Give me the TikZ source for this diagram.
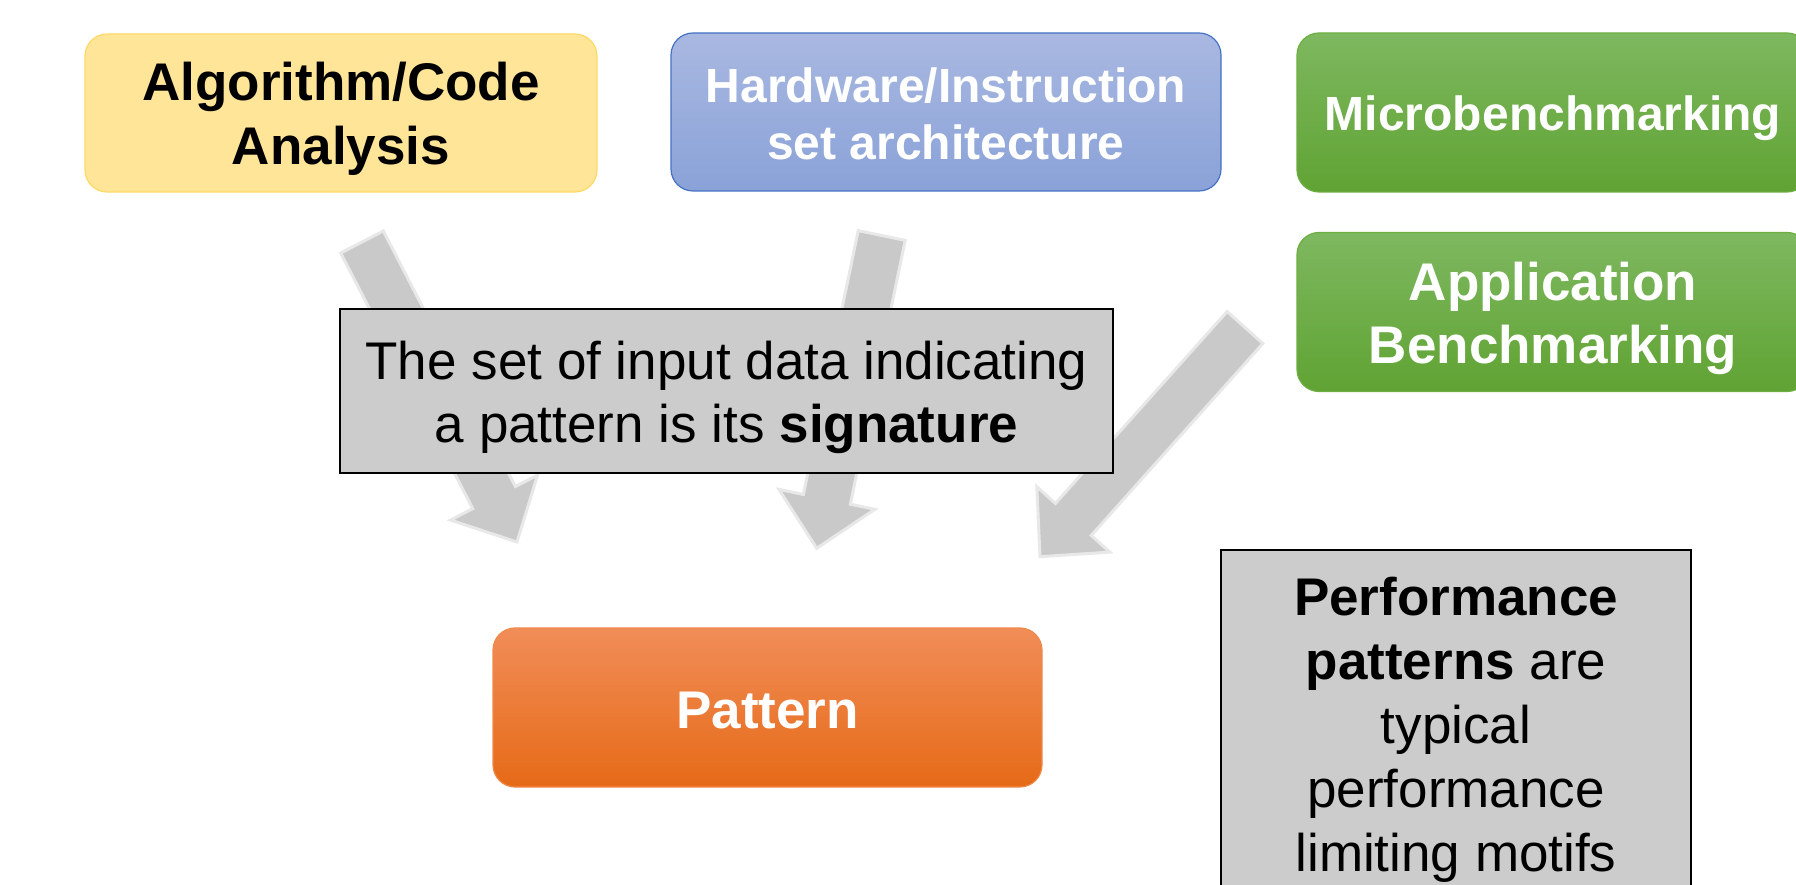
\documentclass[tikz,border=0pt]{standalone}
\usepackage{fontspec}
\setmainfont{Liberation Sans}
\usetikzlibrary{calc}

\definecolor{yelfill}{HTML}{FFE598}
\definecolor{yeldraw}{HTML}{FFD966}
\definecolor{bluetop}{HTML}{A9B8E1}
\definecolor{bluebot}{HTML}{8AA2D8}
\definecolor{bluedraw}{HTML}{4472C4}
\definecolor{greentop}{HTML}{7EB860}
\definecolor{greenbot}{HTML}{60A333}
\definecolor{greendraw}{HTML}{6DAE42}
\definecolor{orgtop}{HTML}{F18D58}
\definecolor{orgmid}{HTML}{F37E2B}
\definecolor{orgbot}{HTML}{E66A17}
\definecolor{orgdraw}{HTML}{F08A4B}
\definecolor{notefill}{HTML}{CCCCCC}
\definecolor{arrfill}{HTML}{C9C9C9}
\definecolor{arrdraw}{HTML}{E8E8E8}

% line box of fixed ascent/descent, so every line sits at the same place
\newcommand\ppstrut{\rule[-0.16em]{0pt}{1.12em}}

% wide block arrow from tail coordinate #1 to tip coordinate #2
\newcommand\blockarrow[2]{%
  \coordinate (#1-h) at ($(#2)!50pt!(#1)$);
  \draw[blockarr]
    ($(#1)!24pt!90:(#2)$) -- ($(#1-h)!24pt!90:(#2)$) --
    ($(#1-h)!49pt!90:(#2)$) -- (#2) -- ($(#1-h)!49pt!-90:(#2)$) --
    ($(#1-h)!24pt!-90:(#2)$) -- ($(#1)!24pt!-90:(#2)$) -- cycle;
}

\tikzset{
  blockarr/.style={fill=arrfill, draw=arrdraw, line width=3pt, line join=miter},
  rbox/.style={rounded corners=22pt, inner sep=0pt, align=center, line width=1.2pt},
  algobox/.style={rbox, fill=yelfill, draw=yeldraw, text=black,
    minimum width=512pt, minimum height=158pt,
    font=\fontsize{53}{64}\selectfont\bfseries},
  hwbox/.style={rbox, top color=bluetop, bottom color=bluebot, draw=bluedraw, text=white,
    minimum width=550pt, minimum height=158pt,
    font=\fontsize{48}{57}\selectfont\bfseries},
  greenbox/.style={rbox, top color=greentop, bottom color=greenbot, draw=greendraw, text=white,
    minimum width=512pt, minimum height=159pt},
  patbox/.style={rbox, top color=orgtop, middle color=orgmid, bottom color=orgbot, draw=orgdraw,
    text=white, minimum width=549pt, minimum height=159pt,
    font=\fontsize{53}{64}\selectfont\bfseries},
  notebox/.style={fill=notefill, draw=black, line width=2pt, inner sep=0pt, align=center,
    text=black}
}

\begin{document}
\begin{tikzpicture}[x=1pt,y=1pt]
\useasboundingbox (0,0) rectangle (1796,884);

% arrow end points
\coordinate (a1t) at (362,642);
\coordinate (a1p) at (517,342);
\coordinate (a2t) at (881.7,648.5);
\coordinate (a2p) at (816.7,335.7);
\coordinate (a3t) at (1245,556.5);
\coordinate (a3p) at (1040,327.3);

\blockarrow{a1t}{a1p}
\blockarrow{a2t}{a2p}
\blockarrow{a3t}{a3p}

% source boxes
\node[algobox] (algo) at (341,771)
  {\ppstrut Algorithm/Code\\\ppstrut Analysis};
\node[hwbox] (hw) at (946,772)
  {\ppstrut Hardware/Instruction\\\ppstrut set architecture};
\node[greenbox, font=\fontsize{48}{57}\selectfont\bfseries] (micro) at (1553,771.5)
  {\ppstrut Microbenchmarking};
\node[greenbox, font=\fontsize{53}{63}\selectfont\bfseries] (app) at (1553,572)
  {\ppstrut Application\\\ppstrut Benchmarking};

% notes
\node[notebox, minimum width=773pt, minimum height=164pt,
      font=\fontsize{53}{63}\selectfont] (sig) at (726.5,493)
  {\ppstrut The set of input data indicating\\\ppstrut a pattern is its \textbf{signature}};

\node[patbox] (pat) at (767.5,176.5) {\ppstrut Pattern};

\node[notebox, minimum width=470pt, minimum height=347pt,
      font=\fontsize{53}{64}\selectfont] (perf) at (1456,160.5)
  {\ppstrut\textbf{Performance}\\\ppstrut\textbf{patterns} are\\\ppstrut typical\\
   \ppstrut performance\\\ppstrut limiting motifs};
\end{tikzpicture}
\end{document}
